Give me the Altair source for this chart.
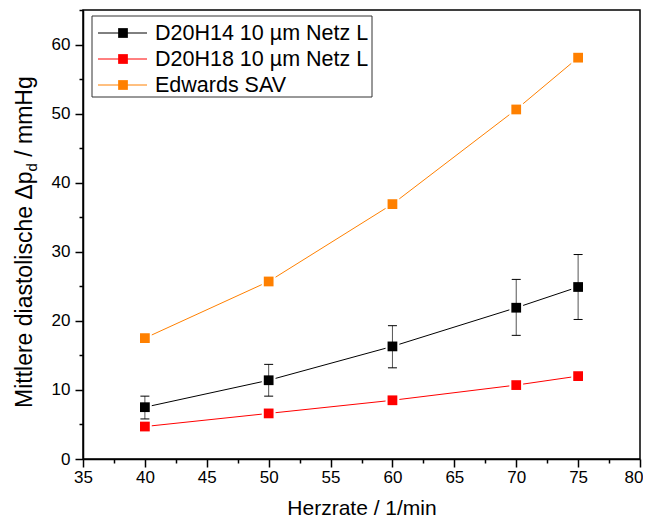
import altair as alt
import pandas as pd

# ---- data ----
herzrate = [40, 50, 60, 70, 75]
d20h14 = [7.5, 11.4, 16.3, 21.9, 24.9]
d20h14_lo = [5.8, 9.1, 13.2, 17.9, 20.2]
d20h14_hi = [9.1, 13.7, 19.3, 26.0, 29.6]
d20h18 = [4.7, 6.6, 8.5, 10.7, 12.0]
edwards = [17.5, 25.7, 36.9, 50.6, 58.1]

series = ["D20H14 10 µm Netz L", "D20H18 10 µm Netz L", "Edwards SAV"]
colors = ["#000000", "#FF0000", "#FF8000"]

x_ticks = [35, 40, 45, 50, 55, 60, 65, 70, 75, 80]
x_minor = [37.5, 42.5, 47.5, 52.5, 57.5, 62.5, 67.5, 72.5, 77.5]
y_ticks = [0, 10, 20, 30, 40, 50, 60]
y_minor = [5, 15, 25, 35, 45, 55, 65]

x_title = "Herzrate / 1/min"
y_title_parts = ["Mittlere diastolische Δp", "d", "/ mmHg"]

FONT = "Liberation Sans, Arial"

rows = []
for name, vals in zip(series, [d20h14, d20h18, edwards]):
    for xv, yv in zip(herzrate, vals):
        rows.append({"series": name, "x": xv, "y": yv})
df = pd.DataFrame(rows)
err = pd.DataFrame({"x": herzrate, "lo": d20h14_lo, "hi": d20h14_hi})
caps = pd.DataFrame({"x": herzrate + herzrate, "v": d20h14_lo + d20h14_hi})
leg_df = pd.DataFrame({"series": series})

xs = alt.Scale(domain=[35, 80], nice=False, zero=False)
ys = alt.Scale(domain=[0, 65], nice=False, zero=False)
cs = alt.Scale(domain=series, range=colors)

common = dict(grid=False, domainColor="black", domainWidth=1.5, tickColor="black",
              tickWidth=1.5, labelColor="black", labelFont=FONT, labelFontSize=17,
              titleFont=FONT, titleFontSize=21, titleFontWeight="normal",
              titleColor="black")

x_axis = alt.Axis(
    values=x_ticks, title=x_title, tickSize=8, labelPadding=2,
    titlePadding=12, labelFlush=False,
    labelAlign={"condition": {"test": "datum.value >= 80", "value": "right"},
                "value": "center"},
    labelOffset={"condition": {"test": "datum.value >= 80", "value": 3},
                 "value": 0},
    **common)
y_axis = alt.Axis(values=y_ticks, title=None, tickSize=8, labelPadding=5,
                  labelFlush=False, **common)
x_minor_axis = alt.Axis(values=x_minor, labels=False, title=None, domain=False,
                        tickSize=4, tickWidth=1.5, tickColor="black", grid=False,
                        orient="bottom")
y_minor_axis = alt.Axis(values=y_minor, labels=False, title=None, domain=False,
                        tickSize=4, tickWidth=1.5, tickColor="black", grid=False,
                        orient="left")

X = lambda f: alt.X(f, scale=xs, axis=None)
Y = lambda f: alt.Y(f, scale=ys, axis=None)

lines = alt.Chart(df).mark_line(strokeWidth=1).encode(
    x=alt.X("x:Q", scale=xs, axis=x_axis),
    y=alt.Y("y:Q", scale=ys, axis=y_axis),
    color=alt.Color("series:N", scale=cs, legend=None),
    detail="series:N",
)

halo = alt.Chart(df).mark_point(shape="square", filled=True, color="white",
                                size=190, opacity=1).encode(x=X("x:Q"), y=Y("y:Q"))

bars = alt.Chart(err).mark_rule(color="#555555", strokeWidth=1).encode(
    x=X("x:Q"), y=Y("lo:Q"), y2="hi:Q")

capm = alt.Chart(caps).mark_tick(orient="horizontal", size=9, thickness=1,
                                 color="black", opacity=1).encode(
    x=X("x:Q"), y=Y("v:Q"))

points = alt.Chart(df).mark_point(shape="square", filled=True, size=95,
                                  opacity=1).encode(
    x=X("x:Q"), y=Y("y:Q"),
    color=alt.Color("series:N", scale=cs, legend=None),
)

minor = alt.Chart(df).mark_point(opacity=0).encode(
    x=alt.X("x:Q", scale=xs, axis=x_minor_axis),
    y=alt.Y("y:Q", scale=ys, axis=y_minor_axis),
)

# ---- legend box (top-left inside the plot) ----
ly = alt.Y("series:N", scale=alt.Scale(type="point", domain=series,
                                       range=[23, 75], padding=0), axis=None)
leg_box = alt.Chart(leg_df.head(1)).mark_rect(
    fill="white", stroke="#333333", strokeWidth=1).encode(
    x=alt.value(9), x2=alt.value(289), y=alt.value(6), y2=alt.value(87))
leg_line = alt.Chart(leg_df).mark_rule(strokeWidth=1).encode(
    x=alt.value(15), x2=alt.value(64), y=ly,
    color=alt.Color("series:N", scale=cs, legend=None))
leg_sym = alt.Chart(leg_df).mark_point(shape="square", filled=True, size=95,
                                       opacity=1).encode(
    x=alt.value(40), y=ly, color=alt.Color("series:N", scale=cs, legend=None))
leg_txt = alt.Chart(leg_df).mark_text(align="left", baseline="middle", font=FONT,
                                      fontSize=21.5, color="black", dy=1).encode(
    x=alt.value(72), y=ly, text="series:N")

# ---- y-axis title with subscript, from rotated text pieces ----
F = 23
FS = 15
w1 = 10.282 * F
w2 = 0.556 * FS + 0.278 * F
y0 = 398
tx = -51
t1 = alt.Chart(pd.DataFrame({"t": [y_title_parts[0]]})).mark_text(
    angle=270, align="left", baseline="alphabetic", font=FONT, fontSize=F,
    color="black").encode(text="t:N", x=alt.value(tx), y=alt.value(y0))
t2 = alt.Chart(pd.DataFrame({"t": [y_title_parts[1]]})).mark_text(
    angle=270, align="left", baseline="alphabetic", font=FONT, fontSize=FS,
    color="black").encode(text="t:N", x=alt.value(tx + 5), y=alt.value(y0 - w1))
t3 = alt.Chart(pd.DataFrame({"t": [y_title_parts[2]]})).mark_text(
    angle=270, align="left", baseline="alphabetic", font=FONT, fontSize=F,
    color="black").encode(text="t:N", x=alt.value(tx), y=alt.value(y0 - w1 - w2))

chart = alt.layer(
    lines, halo, bars, capm, points, minor,
    leg_box, leg_line, leg_sym, leg_txt, t1, t2, t3
).resolve_axis(
    x="independent", y="independent"
).resolve_scale(
    y="independent"
).properties(
    width=557, height=449,
    padding={"left": 75, "top": 2, "right": 3, "bottom": 60},
    autosize=alt.AutoSizeParams(type="none"),
    background="white",
).configure_view(stroke="black", strokeWidth=1.5)

chart.save("out.html", embed_options={"renderer": "svg", "actions": False})
